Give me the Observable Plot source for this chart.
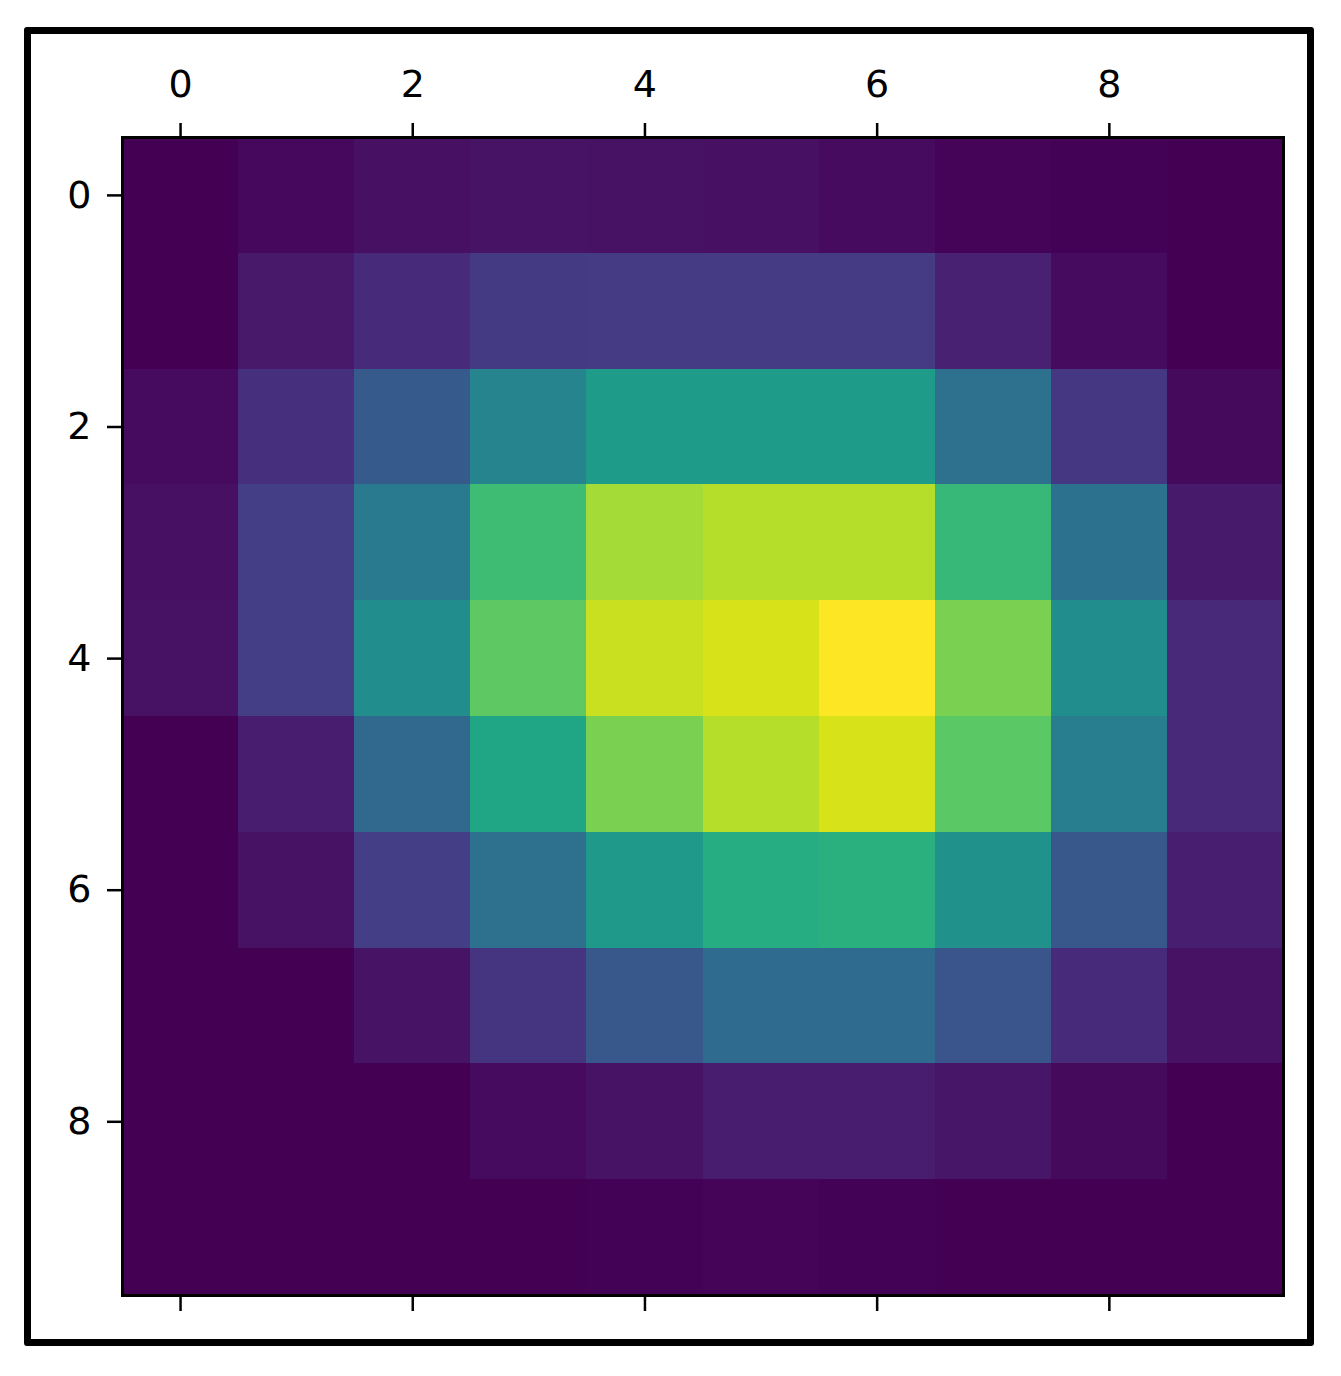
<!DOCTYPE html>
<html><head><meta charset="utf-8">
<script src="https://cdn.jsdelivr.net/npm/d3@7"></script>
<script src="https://cdn.jsdelivr.net/npm/@observablehq/plot@0.6"></script>
<style>
body{margin:0;background:#fff;}
#wrap{position:relative;width:1341px;height:1376px;}
#border{position:absolute;left:24px;top:27px;width:1276px;height:1305px;border:7px solid #000;border-radius:3px;pointer-events:none;}
</style></head><body>
<div id="wrap"><div id="chart"></div><div id="border"></div></div>
<script>
const rowIndex = [0,1,2,3,4,5,6,7,8,9];
const colIndex = [0,1,2,3,4,5,6,7,8,9];
const tickLabels = [0,2,4,6,8];
const values = [
  [0.000,0.020,0.040,0.050,0.045,0.040,0.030,0.010,0.005,0.000],
  [0.000,0.065,0.120,0.170,0.175,0.175,0.175,0.090,0.030,0.000],
  [0.030,0.140,0.280,0.450,0.550,0.550,0.550,0.370,0.160,0.025],
  [0.040,0.180,0.410,0.690,0.865,0.890,0.890,0.670,0.375,0.070],
  [0.045,0.180,0.490,0.750,0.915,0.940,1.000,0.800,0.490,0.110],
  [0.000,0.080,0.335,0.590,0.800,0.890,0.940,0.745,0.420,0.110],
  [0.000,0.045,0.180,0.370,0.540,0.620,0.635,0.500,0.270,0.085],
  [0.000,0.000,0.050,0.155,0.270,0.345,0.345,0.265,0.120,0.045],
  [0.000,0.000,0.000,0.030,0.050,0.080,0.075,0.055,0.025,0.000],
  [0.000,0.000,0.000,0.000,0.005,0.010,0.005,0.000,0.000,0.000]
];
const cells = [];
rowIndex.forEach((r) => colIndex.forEach((c) => cells.push({row: r, col: c, value: values[r][c]})));

const chart = Plot.plot({
  width: 1341,
  height: 1376,
  marginLeft: 122,
  marginRight: 58,
  marginTop: 137,
  marginBottom: 81,
  style: {fontFamily: "DejaVu Sans", fontSize: "38px", color: "#000", background: "transparent"},
  x: {domain: colIndex, padding: 0, round: false, axis: null},
  y: {domain: rowIndex, padding: 0, round: false, axis: null},
  color: {type: "linear", scheme: "viridis"},
  marks: [
    Plot.cell(cells, {x: "col", y: "row", fill: "value", inset: 0, shapeRendering: "crispEdges"}),
    Plot.axisX({anchor: "top", ticks: tickLabels, tickSize: 15, tickPadding: 26, strokeWidth: 2.5, label: null}),
    Plot.axisX({anchor: "bottom", ticks: tickLabels, tickSize: 16, tickFormat: () => "", strokeWidth: 2.5, label: null}),
    Plot.axisY({anchor: "left", ticks: tickLabels, tickSize: 15, tickPadding: 16, strokeWidth: 2.5, label: null}),
    Plot.frame({stroke: "#000", strokeWidth: 3})
  ]
});
document.getElementById("chart").appendChild(chart);
</script>
</body></html>
